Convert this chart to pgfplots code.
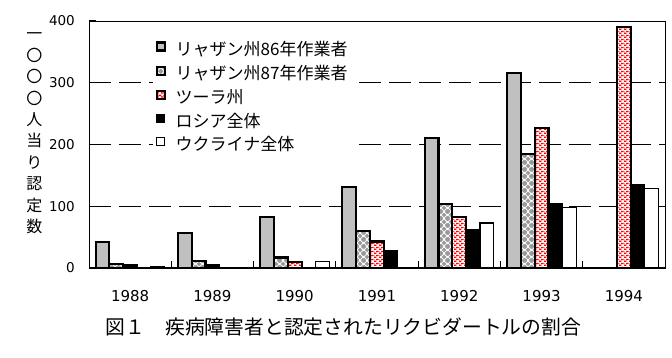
\documentclass[border=0pt]{standalone}
\usepackage{pgfplots}
\pgfplotsset{compat=1.18}
\usepackage{fontspec}
\setmainfont{DejaVu Sans}
\newfontfamily\cjk{Noto Sans CJK JP}
\usetikzlibrary{patterns}
\definecolor{barGray}{HTML}{C0C0C0}
\definecolor{dgray}{HTML}{999999}
\definecolor{tred}{HTML}{FF0000}
\pgfdeclarepatternformonly{tula}{\pgfqpoint{0pt}{0pt}}{\pgfqpoint{4.6pt}{4pt}}{\pgfqpoint{4.6pt}{4pt}}{%
  \pgfpathrectangle{\pgfqpoint{0pt}{0.3pt}}{\pgfqpoint{2.7pt}{1.5pt}}%
  \pgfpathrectangle{\pgfqpoint{2.3pt}{2.3pt}}{\pgfqpoint{2.7pt}{1.5pt}}%
  \pgfpathrectangle{\pgfqpoint{-2.3pt}{2.3pt}}{\pgfqpoint{2.7pt}{1.5pt}}%
  \pgfusepath{fill}}
\pgfdeclarepatternformonly{diam}{\pgfqpoint{0pt}{0pt}}{\pgfqpoint{7pt}{7pt}}{\pgfqpoint{7pt}{7pt}}{%
  \pgfpathmoveto{\pgfqpoint{3.5pt}{0.9pt}}\pgfpathlineto{\pgfqpoint{6.1pt}{3.5pt}}\pgfpathlineto{\pgfqpoint{3.5pt}{6.1pt}}\pgfpathlineto{\pgfqpoint{0.9pt}{3.5pt}}\pgfpathclose
  \pgfpathmoveto{\pgfqpoint{0pt}{-2.6pt}}\pgfpathlineto{\pgfqpoint{2.6pt}{0pt}}\pgfpathlineto{\pgfqpoint{0pt}{2.6pt}}\pgfpathlineto{\pgfqpoint{-2.6pt}{0pt}}\pgfpathclose
  \pgfpathmoveto{\pgfqpoint{7pt}{-2.6pt}}\pgfpathlineto{\pgfqpoint{9.6pt}{0pt}}\pgfpathlineto{\pgfqpoint{7pt}{2.6pt}}\pgfpathlineto{\pgfqpoint{4.4pt}{0pt}}\pgfpathclose
  \pgfpathmoveto{\pgfqpoint{0pt}{4.4pt}}\pgfpathlineto{\pgfqpoint{2.6pt}{7pt}}\pgfpathlineto{\pgfqpoint{0pt}{9.6pt}}\pgfpathlineto{\pgfqpoint{-2.6pt}{7pt}}\pgfpathclose
  \pgfpathmoveto{\pgfqpoint{7pt}{4.4pt}}\pgfpathlineto{\pgfqpoint{9.6pt}{7pt}}\pgfpathlineto{\pgfqpoint{7pt}{9.6pt}}\pgfpathlineto{\pgfqpoint{4.4pt}{7pt}}\pgfpathclose
  \pgfusepath{fill}}
\begin{document}
\begin{tikzpicture}
\path[use as bounding box] (-89pt,-89pt) rectangle (583pt,268pt);
\begin{axis}[
  at={(0,0)}, anchor=south west,
  scale only axis, width=576pt, height=247pt,
  xmin=-0.5, xmax=6.5, ymin=0, ymax=400,
  clip=false,
  ybar, bar width=0.168,
  legend image code/.code={\draw[#1, yshift=4.5pt] (0pt,-4pt) rectangle (8pt,4pt);},
  xtick={0.5,1.5,2.5,3.5,4.5,5.5}, xticklabels={},
  extra x ticks={0,1,2,3,4,5,6},
  extra x tick labels={1988,1989,1990,1991,1992,1993,1994},
  extra x tick style={major tick length=0pt, grid=none},
  ytick={0,100,200,300,400},
  tick align=inside, tick pos=left, major tick length=7pt,
  tick style={black, line width=1.1pt},
  ymajorgrids, grid style={black, line width=1pt, dash pattern=on 22pt off 8pt},
  axis line style={line width=0.9pt},
  /pgf/number format/assume math mode=true,
  yticklabel style={font=\fontsize{13.5}{13.5}\selectfont, anchor=east, inner sep=0pt, xshift=-14pt},
  xticklabel style={font=\fontsize{15}{15}\selectfont, anchor=base, inner sep=0pt, yshift=-33pt},
  legend style={at={(axis description cs:0.11,0.93)}, anchor=north west, draw=none, fill=white,
    font=\cjk\fontsize{17}{17}\selectfont, row sep=7pt, inner sep=3pt,
    nodes={inner sep=0pt, text height=12pt, text depth=3pt},
    /tikz/every odd column/.append style={column sep=10pt}},
  legend cell align=left,
]
\addplot[bar shift=-0.336, fill=barGray, draw=black, line width=2.1pt]
  coordinates {(0,42) (1,57) (2,82) (3,131) (4,210) (5,316)};
\addlegendentry{リャザン州86年作業者}
\addplot[bar shift=-0.168, fill=white, draw=black, line width=2.1pt, postaction={pattern=diam, pattern color=dgray}]
  coordinates {(0,7) (1,12) (2,17) (3,60) (4,104) (5,185)};
\addlegendentry{リャザン州87年作業者}
\addplot[bar shift=0, fill=white, draw=black, line width=2.1pt, postaction={pattern=tula, pattern color=tred}]
  coordinates {(0,4) (1,4) (2,10) (3,43) (4,82) (5,226) (6,391)};
\addlegendentry{ツーラ州}
\addplot[bar shift=0.168, fill=black, draw=black, line width=0.8pt]
  coordinates {(3,29) (4,62) (5,104) (6,136)};
\addlegendentry{ロシア全体}
\addplot[bar shift=0.336, fill=white, draw=black, line width=1.2pt]
  coordinates {(0,2) (2,11) (4,73) (5,98) (6,129)};
\addlegendentry{ウクライナ全体}
\draw[line width=1.8pt] (rel axis cs:0,0) -- (rel axis cs:1,0);
\node[font=\cjk\fontsize{16}{21.4}\selectfont, text width=20pt, align=center, inner sep=0pt, anchor=center]
  at (axis description cs:-0.095,0.545)
  {一\\〇\\〇\\〇\\人\\当\\り\\認\\定\\数};
\node[font=\cjk\fontsize{19.8}{20}\selectfont] at (axis description cs:0.442,-0.239)
  {図１　疾病障害者と認定されたリクビダートルの割合};
\end{axis}
\end{tikzpicture}
\end{document}
